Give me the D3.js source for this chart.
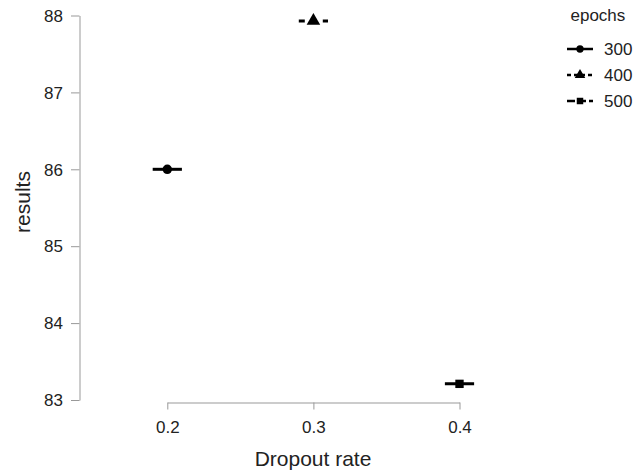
<!DOCTYPE html>
<html>
<head>
<meta charset="utf-8">
<script src="https://cdn.jsdelivr.net/npm/d3@7"></script>
<style>
  body { margin: 0; background: #fff; }
  svg { display: block; font-family: "Liberation Sans", Arial, sans-serif; }
  .axis path, .axis line { stroke: #999; }
  .axis text { fill: #222; font-size: 17px; }
</style>
</head>
<body>
<div id="root"></div>
<script>
// data
const dropoutRates = [0.2, 0.3, 0.4];
const epochs = ['300', '400', '500'];
const results = [86.0, 87.93, 83.21];
const xTicks = [0.2, 0.3, 0.4];
const yTicks = [83, 84, 85, 86, 87, 88];

const width = 644;
const height = 473;
const barHalf = 0.01; // half width of the horizontal bar, in x units

const shapes = [d3.symbolCircle, d3.symbolTriangle, d3.symbolSquare];
const shapeSizes = [70, 80, 70];
const dashes = [null, '6,6', '12,6'];

const svg = d3.select('#root')
  .append('svg')
  .attr('width', width)
  .attr('height', height);

const x = d3.scaleLinear().domain([0.2, 0.4]).range([167.3, 459.5]);
const y = d3.scaleLinear().domain([83, 88]).range([400, 15.5]);

// y axis
const yAxis = svg.append('g')
  .attr('class', 'axis')
  .attr('transform', 'translate(79.5,0)')
  .call(d3.axisLeft(y).tickValues(yTicks).tickSize(8.5).tickPadding(8)
    .tickFormat(d3.format('d')).tickSizeOuter(0));
yAxis.selectAll('text').attr('dy', '0.34em');

// x axis, offset below the plot
svg.append('g')
  .attr('class', 'axis')
  .attr('transform', 'translate(0,402.5)')
  .call(d3.axisBottom(x).tickValues(xTicks).tickSize(7).tickPadding(11)
    .tickFormat(d3.format('.1f')).tickSizeOuter(0));

svg.append('text')
  .attr('transform', 'translate(30,202) rotate(-90)')
  .attr('text-anchor', 'middle')
  .attr('font-size', 21)
  .attr('fill', '#222')
  .text('results');

svg.append('text')
  .attr('x', 313)
  .attr('y', 466)
  .attr('text-anchor', 'middle')
  .attr('font-size', 21)
  .attr('fill', '#222')
  .text('Dropout rate');

// points with their horizontal bars
const pts = dropoutRates.map((d, i) => ({ x: d, y: results[i], i }));

const g = svg.append('g');
g.selectAll('line.bar')
  .data(pts)
  .join('line')
  .attr('class', 'bar')
  .attr('x1', d => x(d.x - barHalf))
  .attr('x2', d => x(d.x + barHalf))
  .attr('y1', d => y(d.y))
  .attr('y2', d => y(d.y))
  .attr('stroke', '#000')
  .attr('stroke-width', 3)
  .attr('stroke-dasharray', d => dashes[d.i]);

g.selectAll('path.pt')
  .data(pts)
  .join('path')
  .attr('class', 'pt')
  .attr('transform', d => `translate(${x(d.x)},${y(d.y)})`)
  .attr('d', d => d3.symbol(shapes[d.i], shapeSizes[d.i])())
  .attr('fill', '#000');

// legend
const legend = svg.append('g').attr('transform', 'translate(567,0)');
legend.append('text')
  .attr('x', 3.5)
  .attr('y', 21)
  .attr('font-size', 17)
  .attr('fill', '#222')
  .text('epochs');

const rowY = [49, 75, 101];
const keys = legend.selectAll('g.key')
  .data(epochs)
  .join('g')
  .attr('class', 'key')
  .attr('transform', (d, i) => `translate(0,${rowY[i]})`);

keys.append('line')
  .attr('x1', 0)
  .attr('x2', 26)
  .attr('stroke', '#000')
  .attr('stroke-width', 2.5)
  .attr('stroke-dasharray', (d, i) => i === 1 ? '4,3' : dashes[i] ? '8,3' : null);

keys.append('path')
  .attr('transform', 'translate(13,0)')
  .attr('d', (d, i) => d3.symbol(shapes[i], shapeSizes[i] * 0.6)())
  .attr('fill', '#000');

keys.append('text')
  .attr('x', 37)
  .attr('dy', '0.36em')
  .attr('font-size', 17)
  .attr('fill', '#222')
  .text(d => d);
</script>
</body>
</html>
